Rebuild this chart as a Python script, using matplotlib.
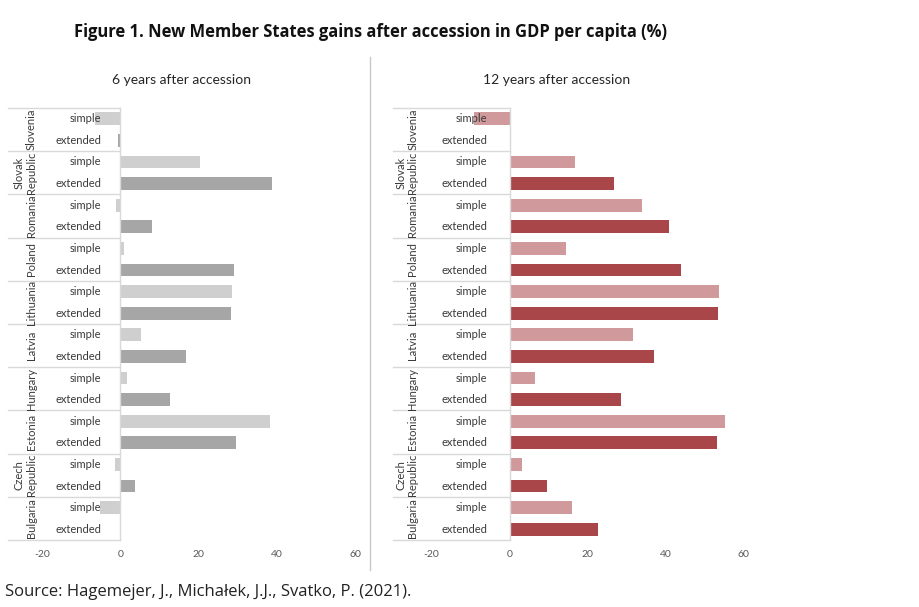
import matplotlib
import numpy as np

matplotlib.use("Agg")
import matplotlib.pyplot as plt

countries = ["Slovenia", "Slovak\nRepublic", "Romania", "Poland", "Lithuania",
             "Latvia", "Hungary", "Estonia", "Czech\nRepublic", "Bulgaria"]
variants = ["simple", "extended"]

six_simple = [-6.5, 20.4, -1.0, 0.9, 28.6, 5.2, 1.7, 38.4, -1.3, -5.1]
six_extended = [-0.7, 38.7, 8.2, 29.2, 28.4, 16.9, 12.6, 29.7, 3.7, 0.0]
twelve_simple = [-9.2, 16.9, 33.9, 14.5, 53.8, 31.7, 6.6, 55.2, 3.3, 16.1]
twelve_extended = [0.0, 26.8, 40.9, 44.0, 53.6, 37.0, 28.5, 53.3, 9.7, 22.7]

x_ticks = [-20, 0, 20, 40, 60]

W, H = 920, 607
fig = plt.figure(figsize=(W / 100, H / 100), dpi=100)
fig.patch.set_facecolor("white")

LINE = "#d9d9d9"
FONT = "Lato"


def draw_panel(rect, simple, extended, colors, label_x, country_x, line_x0, subtitle, sub_x):
    ax = fig.add_axes(rect)
    n = len(countries)
    simple_pos = np.arange(n) * 2
    ext_pos = simple_pos + 1

    ax.barh(simple_pos, simple, height=0.6, color=colors[0], zorder=2)
    ax.barh(ext_pos, extended, height=0.6, color=colors[1], zorder=2)

    ax.set_xlim(-20, 60)
    ax.set_ylim(2 * n - 0.5, -0.5)
    ax.set_yticks([])
    ax.set_xticks(x_ticks)
    ax.set_xticklabels([str(t) for t in x_ticks], fontsize=7.5, color="#595959", family=FONT)
    ax.tick_params(axis="x", length=0, pad=7)
    for s in ax.spines.values():
        s.set_visible(False)

    # category axis at zero
    ax.plot([0, 0], [-0.5, 2 * n - 0.5], color=LINE, lw=1, zorder=3, clip_on=False)
    for k in range(n + 1):
        yb = 2 * k - 0.5
        ax.plot([line_x0, 0], [yb, yb], color=LINE, lw=1, zorder=3, clip_on=False)

    for i, name in enumerate(countries):
        for j, v in enumerate(variants):
            ax.text(label_x, 2 * i + j, v, ha="right", va="center", fontsize=8,
                    color="#3a3a3a", family=FONT, zorder=4, clip_on=False)
        ax.text(country_x, 2 * i + 0.5, name, rotation=90, ha="right", va="center",
                multialignment="center", fontsize=8, color="#3a3a3a", family=FONT,
                linespacing=1.15, zorder=4, clip_on=False)

    fig.text(sub_x / W, 1 - 80 / H, subtitle, ha="center", va="center",
             fontsize=10, color="#262626", family=FONT)
    return ax


draw_panel([42 / W, 1 - 540 / H, 313 / W, 432 / H], six_simple, six_extended,
           ("#cfcfcf", "#a6a6a6"), -4.8, -21.4, -28.6, "6 years after accession", 182)
draw_panel([431.7 / W, 1 - 540 / H, 311.6 / W, 432 / H], twelve_simple, twelve_extended,
           ("#d09a9c", "#a9464a"), -5.8, -23.4, -30.0, "12 years after accession", 557)

# panel separator
fig.add_artist(plt.Line2D([370 / W, 370 / W], [1 - 57 / H, 1 - 570 / H],
                          color="#c8c8c8", lw=1))

fig.text(74 / W, 1 - 32 / H,
         "Figure 1. New Member States gains after accession in GDP per capita (%)",
         ha="left", va="center", fontsize=11.9, fontweight="bold",
         family="Open Sans", color="#111111")
fig.text(5 / W, 1 - 592 / H, "Source: Hagemejer, J., Michałek, J.J., Svatko, P. (2021).",
         ha="left", va="center", fontsize=12, family="Open Sans", color="#222222")

fig.savefig("out.png", dpi=100)
